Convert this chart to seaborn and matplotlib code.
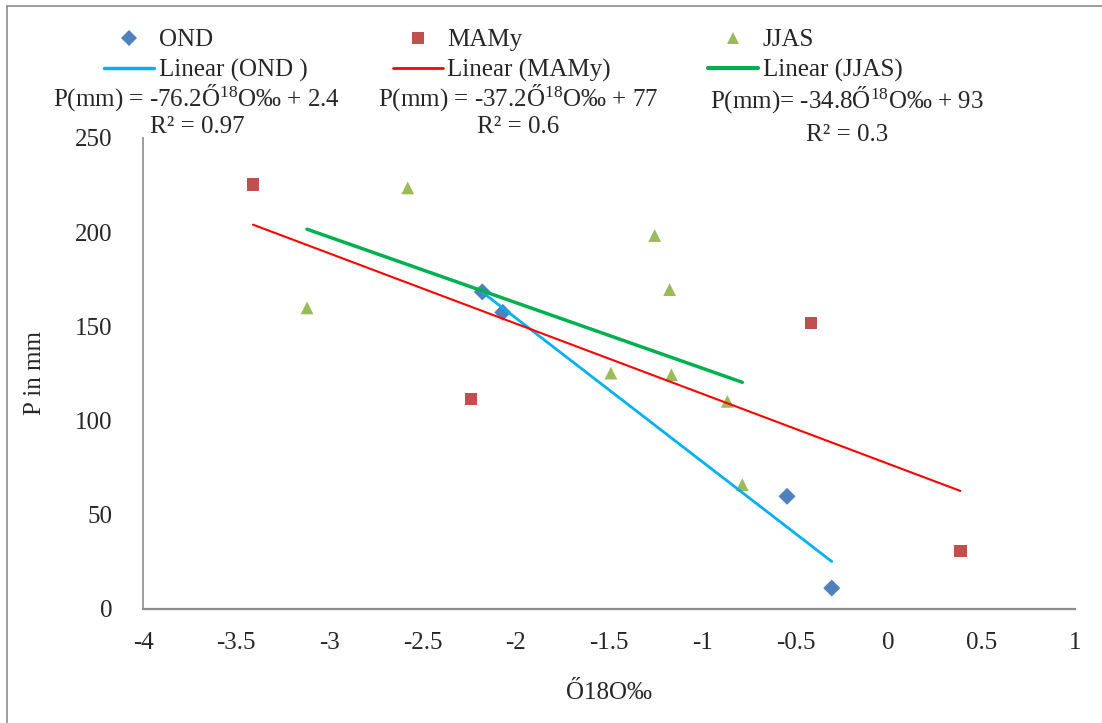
import numpy as np
import matplotlib
matplotlib.use('Agg')
import matplotlib.pyplot as plt
import seaborn as sns
from matplotlib.lines import Line2D

# values
ond_x = [-2.18, -2.07, -0.545, -0.305]
ond_y = [168.3, 157.4, 59.8, 11.1]
mamy_x = [-3.41, -2.24, -0.415, 0.385]
mamy_y = [225.3, 111.5, 151.8, 30.9]
jjas_x = [-3.12, -2.58, -1.49, -1.255, -1.175, -1.165, -0.865, -0.785]
jjas_y = [159.8, 223.5, 125.2, 198.2, 169.5, 124.3, 110.2, 66.0]

series_names = ['OND', 'MAMy', 'JJAS']
trend_names = ['Linear (OND )', 'Linear (MAMy)', 'Linear (JJAS)']
equations = ['P(mm) = -76.2Ő$^{18}$O‰ + 2.4',
             'P(mm) = -37.2Ő$^{18}$O‰ + 77',
             'P(mm)= -34.8Ő$^{18}$O‰ + 93']
r_squared = ['R² = 0.97', 'R² = 0.6', 'R² = 0.3']

x_ticks = [-4, -3.5, -3, -2.5, -2, -1.5, -1, -0.5, 0, 0.5, 1]
y_ticks = [0, 50, 100, 150, 200, 250]

sns.set_style('white')
plt.rcParams['font.family'] = ['Liberation Serif', 'DejaVu Serif']
plt.rcParams['mathtext.fontset'] = 'custom'
plt.rcParams['mathtext.rm'] = 'Liberation Serif'
plt.rcParams['mathtext.default'] = 'regular'
plt.rcParams['axes.unicode_minus'] = False
fs = 18

fig = plt.figure(figsize=(11.02, 7.23), dpi=100)
ax = fig.add_axes([0.1298, 0.1577, 0.8457, 0.6515])

marker_colors = ['#4F81BD', '#C0504D', '#9BBB59']
line_colors = ['#00B0F0', '#FF0000', '#00B050']
line_widths = [2.0, 1.5, 2.5]
markers = ['D', 's', '^']
sizes = [75, 80, 85]

data = [(ond_x, ond_y), (mamy_x, mamy_y), (jjas_x, jjas_y)]
for i, (x, y) in enumerate(data):
    sns.scatterplot(x=x, y=y, marker=markers[i], color=marker_colors[i], s=sizes[i],
                    edgecolor='none', ax=ax, zorder=3, legend=False)
for i, (x, y) in enumerate(data):
    coef = np.polyfit(x, y, 1)
    xs = np.array([min(x), max(x)])
    ax.plot(xs, np.polyval(coef, xs), color=line_colors[i], lw=line_widths[i],
            solid_capstyle='round', zorder=4)

ax.set_xlim(-4, 1)
ax.set_ylim(0, 250)
ax.set_xticks(x_ticks)
ax.set_xticklabels(['%g' % t for t in x_ticks])
ax.set_yticks(y_ticks)
ax.set_yticklabels(['%g' % t for t in y_ticks])
ax.tick_params(axis='x', length=0, pad=16.5, labelsize=fs)
ax.tick_params(axis='y', length=0, pad=22, labelsize=fs)
for s in ['top', 'right']:
    ax.spines[s].set_visible(False)
ax.spines['left'].set_color('#8c8c8c')
ax.spines['bottom'].set_color('#8c8c8c')
ax.spines['left'].set_linewidth(1.2)
ax.spines['bottom'].set_linewidth(1.6)
ax.set_xlabel('Ő18O‰', fontsize=fs, labelpad=20.5)
ax.set_ylabel('P in mm', fontsize=fs, labelpad=21)

# legends, one per series column
legend_x = [0.0944, 0.3566, 0.6425]
marker_ms = [8.5, 8.0, 8.5]
for i in range(3):
    handles = [Line2D([], [], ls='none', marker=markers[i], color=marker_colors[i],
                      markersize=marker_ms[i], markeredgewidth=0),
               Line2D([], [], color=line_colors[i], lw=line_widths[i] + 0.5)]
    fig.legend(handles, [series_names[i], trend_names[i]], loc='upper left',
               bbox_to_anchor=(legend_x[i], 0.960), frameon=False, fontsize=fs,
               handlelength=2.0, handletextpad=0.18, borderpad=0, borderaxespad=0,
               labelspacing=0.30)

# trendline equations
eq_x = [197, 518, 847]
eq_y = [98, 98, 100]
r2_y = [127, 127, 135]
for i in range(3):
    fig.text(eq_x[i] / 1102, 1 - eq_y[i] / 723, equations[i], ha='center', va='center', fontsize=fs)
    fig.text(eq_x[i] / 1102, 1 - r2_y[i] / 723, r_squared[i], ha='center', va='center', fontsize=fs)

# chart frame (left and top edges visible)
fig.add_artist(Line2D([0.0062, 0.0062], [0, 0.9917], color='#8c8c8c', lw=1.2))
fig.add_artist(Line2D([0.0062, 1], [0.9917, 0.9917], color='#8c8c8c', lw=1.2))

fig.savefig('out.png', dpi=100)
